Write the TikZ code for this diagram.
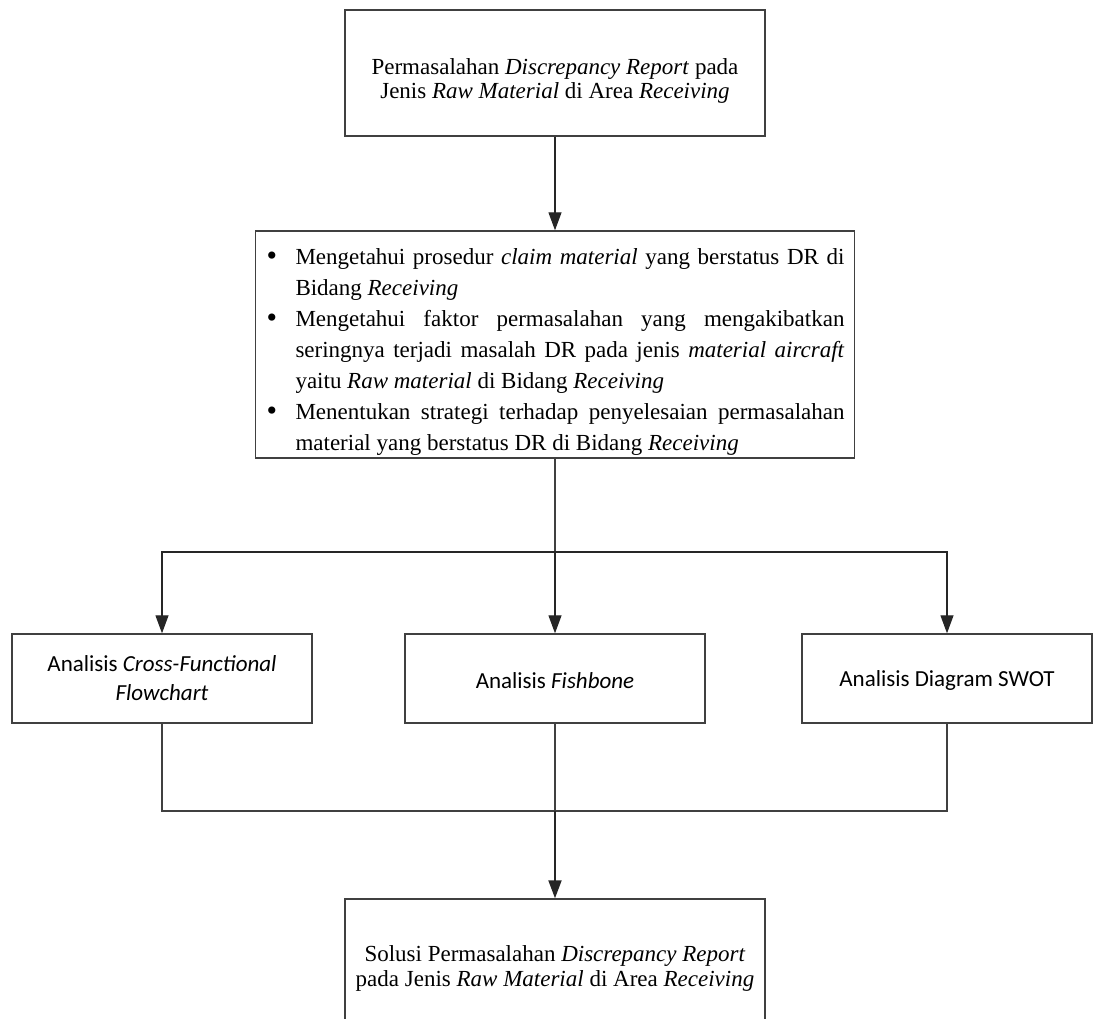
\documentclass[tikz,border=0pt]{standalone}
\usepackage{fontspec}
\setmainfont{Liberation Serif}
\newfontfamily\calibri{Carlito}
\usetikzlibrary{arrows.meta}

\newcommand{\butir}[1]{\par\noindent\hangindent=15pt\hangafter=0\llap{\makebox[15pt][l]{\hspace{0.5pt}\raisebox{-0.5pt}{\fontsize{15}{15}\selectfont\textbullet}}}\ignorespaces#1}

\begin{document}
\begin{tikzpicture}[x=0.5pt,y=-0.5pt,
  kotak/.style={draw=black!75,line width=0.7pt,inner sep=0pt},
  serifbox/.style={kotak,minimum width=210pt,minimum height=63pt,align=center,font=\fontsize{11.5}{12}\selectfont},
  analisis/.style={kotak,minimum height=44.5pt,align=center,font=\calibri\fontsize{11.5}{14.5}\selectfont},
  panah/.style={-{Triangle[length=9pt,width=6.5pt]},line width=0.6pt,draw=black!85},
  garis/.style={line width=0.6pt,draw=black!75}]
  \useasboundingbox (0,0) rectangle (1093,1018);
  \node[serifbox] (masalah) at (555,73) {\rule{0pt}{16pt}Permasalahan \textit{Discrepancy Report} pada\\Jenis \textit{Raw Material} di Area \textit{Receiving}};
  \node[kotak,text width=289.5pt,inner xsep=5pt,minimum height=113.5pt,align=justify,
        font=\fontsize{11.5}{15.5}\selectfont] (tujuan) at (555,344.5) {%
    \butir{Mengetahui prosedur \textit{claim material} yang berstatus DR di\linebreak Bidang \textit{Receiving}}
    \butir{Mengetahui faktor permasalahan yang mengakibatkan\linebreak seringnya terjadi masalah DR pada jenis \textit{material aircraft}\linebreak yaitu \textit{Raw material} di Bidang \textit{Receiving}}
    \butir{Menentukan strategi terhadap penyelesaian permasalahan\linebreak material yang berstatus DR di Bidang \textit{Receiving}}\par\vspace{14pt}};
  \node[analisis,minimum width=150pt] (cff) at (162,678.5) {Analisis \textit{Cross-Functional}\\\textit{Flowchart}};
  \node[analisis,minimum width=150pt] (fish) at (555,678.5) {\rule{0pt}{10pt}Analisis \textit{Fishbone}};
  \node[analisis,minimum width=145pt] (swot) at (947,678.5) {\rule{0pt}{10pt}Analisis Diagram SWOT};
  \node[serifbox,font=\fontsize{11.5}{12.5}\selectfont] (solusi) at (555,962) {\rule{0pt}{14pt}Solusi Permasalahan \textit{Discrepancy Report}\\pada Jenis \textit{Raw Material} di Area \textit{Receiving}};
  \coordinate (cabang) at (555,552);
  \coordinate (gabung) at (555,811);
  \draw[panah] (masalah) -- (tujuan);
  \draw[garis,line width=1pt] (tujuan) -- (cabang);
  \draw[panah] (cabang) -| (cff);
  \draw[panah] (cabang) -- (fish);
  \draw[panah] (cabang) -| (swot);
  \draw[garis] (cff) |- (gabung);
  \draw[garis] (swot) |- (gabung);
  \draw[garis] (fish) -- (gabung);
  \draw[panah,line width=1pt] (gabung) -- (solusi);
\end{tikzpicture}
\end{document}
